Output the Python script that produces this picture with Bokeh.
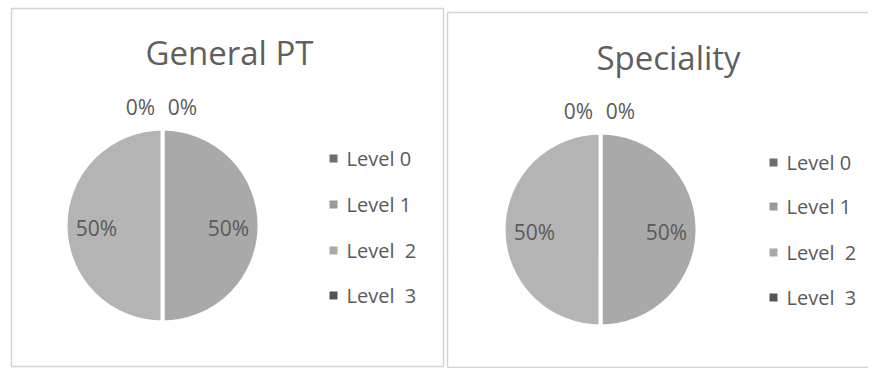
import math
from bokeh.plotting import figure
from bokeh.models import Range1d, ColumnDataSource
from bokeh.core.properties import value
from bokeh.embed import file_html
from bokeh.resources import INLINE

# ---- data ----
categories = ["Level 0", "Level 1", "Level 2", "Level 3"]
legend_labels = ["Level 0", "Level 1", "Level\u00a0 2", "Level\u00a0 3"]
general_pt = [0, 50, 50, 0]
speciality = [0, 50, 50, 0]
titles = ["General PT", "Speciality"]
slice_colors = ["#8c8c8c", "#a9a9a9", "#b4b4b4", "#666666"]
legend_colors = ["#6e6e6e", "#9a9a9a", "#a8a8a8", "#555555"]

FONT = "Open Sans"
W, H = 868, 368

p = figure(width=W, height=H, output_backend="svg", toolbar_location=None,
           x_range=Range1d(0, W), y_range=Range1d(-H, 0),
           min_border=0)
p.axis.visible = False
p.grid.visible = False
p.outline_line_color = None
p.background_fill_color = "white"

# panel frames (image pixel coordinates, y negated)
panels = [dict(x0=11, x1=443, y0=8, y1=366, cx=162, cy=225, r=97,
               tx=229, ty=52, leg_mx=333, leg_ty=[158, 204, 250, 295]),
          dict(x0=447, x1=880, y0=12, y1=367, cx=600, cy=229, r=97,
               tx=668, ty=57, leg_mx=773, leg_ty=[162, 206, 252, 297])]

for panel, vals, title in zip(panels, [general_pt, speciality], titles):
    # frame
    p.quad(left=[panel["x0"]], right=[panel["x1"]], top=[-panel["y0"]], bottom=[-panel["y1"]],
           fill_color=None, line_color="#d4d4d4", line_width=1.5)
    # title
    p.text(x=[panel["tx"]], y=[-panel["ty"]], text=[title], text_font=value(FONT),
           text_font_size="33px", text_color="#5f5f5f", text_align="center",
           text_baseline="middle")
    total = float(sum(vals))
    starts, ends, cum = [], [], 0.0
    for v in vals:
        s = math.pi / 2 - 2 * math.pi * cum / total
        cum += v
        e = math.pi / 2 - 2 * math.pi * cum / total
        starts.append(s)
        ends.append(e)
    nz = [i for i, v in enumerate(vals) if v > 0]
    src_nz = ColumnDataSource(dict(start=[starts[i] for i in nz], end=[ends[i] for i in nz],
                                   color=[slice_colors[i] for i in nz]))
    p.wedge(x=panel["cx"], y=-panel["cy"], radius=panel["r"], start_angle="start",
            end_angle="end", direction="clock", fill_color="color",
            line_color="white", line_width=4, source=src_nz)
    # data labels
    lab_x, lab_y, lab_t = [], [], []
    for i, v in enumerate(vals):
        pct = "%d%%" % round(100 * v / total)
        if v > 0:
            mid = (starts[i] + ends[i]) / 2
            lab_x.append(panel["cx"] + 0.68 * panel["r"] * math.cos(mid))
            lab_y.append(-panel["cy"] - 2)
        else:
            # zero slices sit at 12 o'clock; labels outside top
            off = 20 if i == 0 else -22
            lab_x.append(panel["cx"] + off)
            lab_y.append(-panel["cy"] + panel["r"] + 22)
        lab_t.append(pct)
    p.text(x=lab_x, y=lab_y, text=lab_t, text_font=value(FONT), text_font_size="21px",
           text_color="#5a5a5a", text_align="center", text_baseline="middle")
    # legend
    mx = [panel["leg_mx"]] * len(categories)
    my = [-t for t in panel["leg_ty"]]
    p.scatter(x=mx, y=my, marker="square", size=8, fill_color=legend_colors,
              line_color=None)
    p.text(x=[panel["leg_mx"] + 13] * len(categories), y=my, text=legend_labels,
           text_font=value(FONT), text_font_size="20px", text_color="#5a5a5a",
           text_align="left", text_baseline="middle")

open("out.html", "w").write(file_html(p, INLINE))
